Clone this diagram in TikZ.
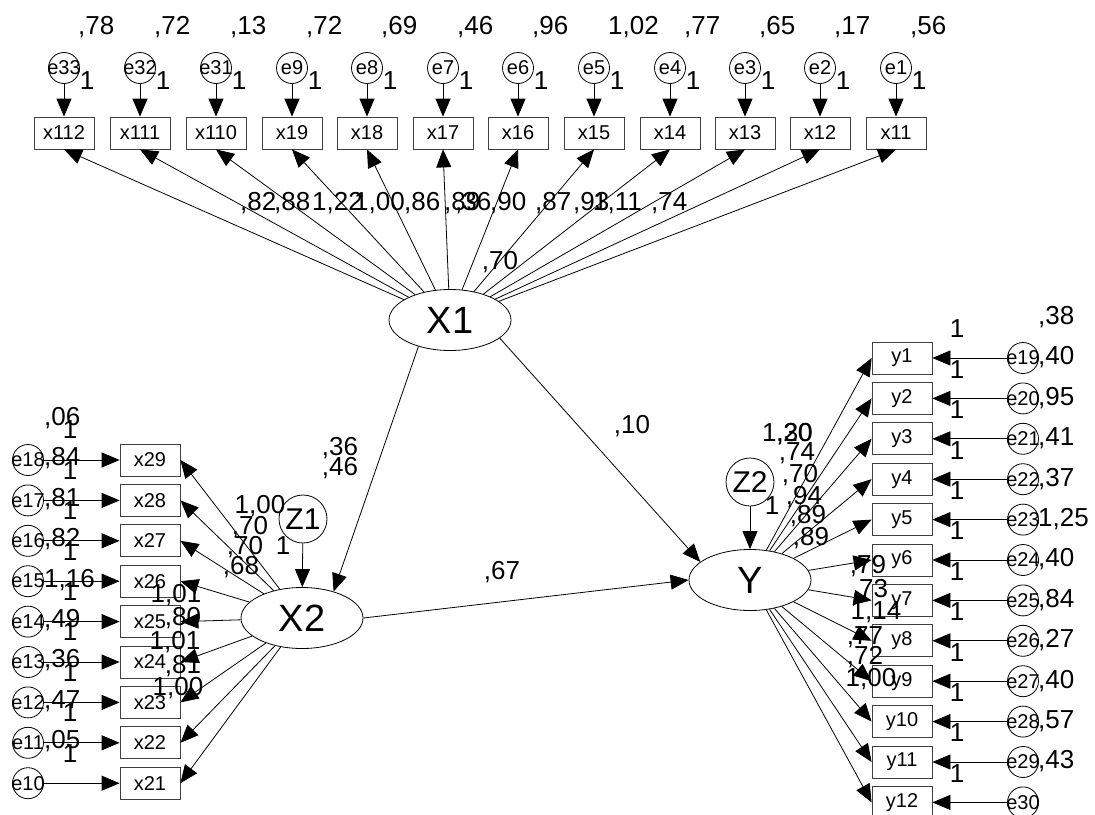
\documentclass[tikz,border=0pt]{standalone}
\usepackage{fontspec}
\setmainfont{Liberation Sans}
\usetikzlibrary{arrows.meta,shapes.geometric}
\tikzset{
 lbl/.style={font=\fontsize{26}{26}\selectfont, inner sep=0pt},
 obs/.style={draw=black!75, line width=0.8pt, minimum width=60pt, minimum height=32pt, inner sep=0pt, font=\fontsize{20}{20}\selectfont},
 err/.style={draw, line width=0.8pt, circle, minimum size=31pt, inner sep=0pt, label={[font=\fontsize{20}{20}\selectfont, inner sep=0pt]center:#1}},
 lat/.style={draw, line width=0.8pt, ellipse, minimum width=122pt, minimum height=61pt, inner sep=0pt, font=\fontsize{38}{38}\selectfont},
 dist/.style={draw, line width=0.8pt, circle, minimum size=48pt, inner sep=0pt, font=\fontsize{30}{30}\selectfont},
 arr/.style={-{Triangle[length=18pt,width=15pt]}, line width=0.8pt},
}
\begin{document}
\begin{tikzpicture}[x=1pt,y=-1pt]
\useasboundingbox (0,0) rectangle (1095,814);
% latent variables
\node[lat] (X1) at (450,320) {X1};
\node[lat] (X2) at (302,618) {X2};
\node[lat] (Y) at (750,580) {Y};
\node[dist] (Z1) at (303,519) {Z1};
\node[dist] (Z2) at (750,482) {Z2};
% top indicators
\foreach \n/\e/\x/\v in {x112/e33/64/{,78}, x111/e32/140/{,72}, x110/e31/216/{,13}, x19/e9/292/{,72}, x18/e8/367/{,69}, x17/e7/443/{,46}, x16/e6/518/{,96}, x15/e5/594/{1,02}, x14/e4/670/{,77}, x13/e3/745/{,65}, x12/e2/820/{,17}, x11/e1/896/{,56}}{
 \node[obs] (\n) at (\x,133) {\n};
 \node[err=\e] (\e) at (\x,68) {};
 \draw[arr] (\e) -- (\n);
 \node[lbl, anchor=west] (v\e) at ({\x+14},27) {\v};
 \node[lbl] (o\e) at ({\x+23},81) {1};
 \draw[arr] (X1) -- (\n.south);
}
% left indicators
\foreach \i/\n/\e/\v in {0/x29/e18/{,06}, 1/x28/e17/{,84}, 2/x27/e16/{,81}, 3/x26/e15/{,82}, 4/x25/e14/{1,16}, 5/x24/e13/{,49}, 6/x23/e12/{,36}, 7/x22/e11/{,47}, 8/x21/e10/{,05}}{
 \pgfmathsetmacro\yy{460+40.4*\i}
 \node[obs] (\n) at (150,\yy) {\n};
 \node[err=\e] (\e) at (28,\yy) {};
 \draw[arr] (\e) -- (\n);
 \node[lbl, anchor=west] (v\e) at (44,{\yy-42}) {\v};
 \node[lbl] (o\e) at (70,{\yy-30}) {1};
 \draw[arr] (X2) -- (\n.east);
}
% right indicators
\foreach \i/\n/\e/\v in {0/y1/e19/{,38}, 1/y2/e20/{,40}, 2/y3/e21/{,95}, 3/y4/e22/{,41}, 4/y5/e23/{,37}, 5/y6/e24/{1,25}, 6/y7/e25/{,40}, 7/y8/e26/{,84}, 8/y9/e27/{,27}, 9/y10/e28/{,40}, 10/y11/e29/{,57}, 11/y12/e30/{,43}}{
 \pgfmathsetmacro\yy{358+40.4*\i}
 \node[obs] (\n) at (902,\yy) {\n};
 \node[err=\e] (\e) at (1023,\yy) {};
 \draw[arr] (\e) -- (\n);
 \node[lbl, anchor=west] (v\e) at (1038,{\yy-41}) {\v};
 \node[lbl] (o\e) at (957,{\yy-29}) {1};
 \draw[arr] (Y) -- (\n.west);
}
% structural paths
\draw[arr] (X1.220) -- (X2.40);
\draw[arr] (X1.340) -- (Y.160);
\draw[arr] (X2.east) -- (Y.west);
\draw[arr] (Z1) -- (X2);
\draw[arr] (Z2) -- (Y);
% top loading labels
\foreach \x/\t in {240/{,82}, 274/{,88}, 312/{1,22}, 354/{1,00}, 404/{,86}, 444/{,89}, 455/{,36}, 490/{,90}, 535/{,87}, 573/{,93}, 593/{1,11}, 651/{,74}}{
 \node[lbl, anchor=west] at (\x,203) {\t};
}
\node[lbl] (vX1) at (500,262) {,70};
% X2 labels
\node[lbl] (l36) at (340,448) {,36};
\node[lbl] (l46) at (340,468) {,46};
\node[lbl] (oZ1) at (283,546) {1};
\foreach \x/\y/\t in {260/506/{1,00}, 250/527/{,70}, 245/547/{,70}, 241/567/{,68}, 176/595/{1,01}, 183/618/{,80}, 175/642/{1,01}, 183/666/{,81}, 178/688/{1,00}}{
 \node[lbl] at (\x,\y) {\t};
}
% Y labels
\node[lbl] (l10) at (632,426) {,10};
\node[lbl] (l67) at (502,572) {,67};
\node[lbl] (oZ2) at (772,506) {1};
\node[lbl, anchor=west] (lY1) at (762,434) {1,30};
\node[lbl, anchor=west] (lY2) at (776,434) {,20};
\foreach \x/\y/\t in {797/453/{,74}, 800/475/{,70}, 804/497/{,94}, 808/516/{,89}, 811/538/{,89}, 868/566/{,79}, 870/590/{,73}, 876/612/{1,14}, 865/637/{,77}, 865/657/{,72}, 871/679/{1,00}}{
 \node[lbl] at (\x,\y) {\t};
}
\end{tikzpicture}
\end{document}
